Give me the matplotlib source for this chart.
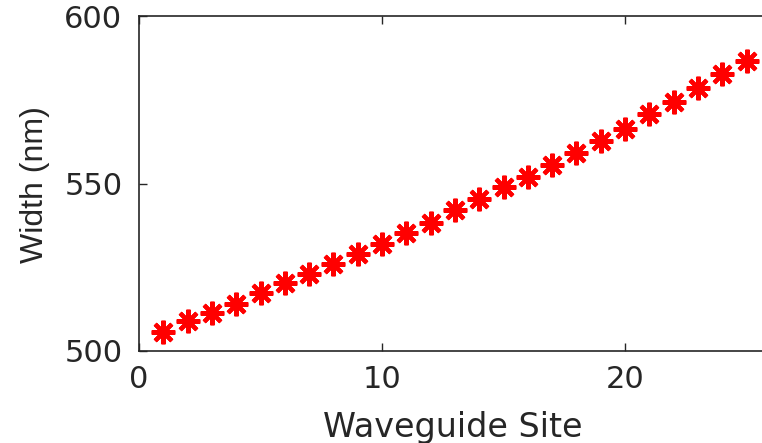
import numpy as np
import matplotlib
matplotlib.use('Agg')
import matplotlib.pyplot as plt

# data
site = list(range(1, 26))
width_nm = [505.7, 509.0, 511.3, 514.0, 517.3, 520.3, 523.0, 526.0, 529.0, 532.0,
            535.2, 538.2, 542.1, 545.4, 549.0, 551.9, 555.5, 559.1, 562.7, 566.3,
            570.7, 574.3, 578.5, 582.7, 586.6]
xticks = [0, 10, 20]
yticks = [500, 550, 600]

plt.rcParams['font.family'] = ['DejaVu Sans']
axcol = '#262626'

fig = plt.figure(figsize=[7.62, 4.43], dpi=100)
ax = fig.add_axes([139/762, 1-351/443, 26*24.3/762, 335/443])
ax.plot(site, width_nm, linestyle='none', marker=(8, 2, 0), color='red',
        markersize=17, markeredgewidth=3)
ax.set_xlim(0, 26)
ax.set_ylim(500, 600)
ax.set_xticks(xticks)
ax.set_yticks(yticks)
ax.tick_params(direction='in', length=6, width=1, colors=axcol, labelsize=22,
               top=True, right=True)
ax.tick_params(axis='x', pad=10)
ax.tick_params(axis='y', pad=12)
for s in ax.spines.values():
    s.set_color(axcol)
    s.set_linewidth(1.2)
fig.text(35/762, 1-185/443, 'Width (nm)', fontsize=23, color=axcol,
         family=['Liberation Sans', 'DejaVu Sans'],
         rotation=90, ha='center', va='center')
fig.text(453/762, 1-411/443, 'Waveguide Site', fontsize=24, color=axcol,
         ha='center', va='top')

fig.savefig('out.png', dpi=100)
